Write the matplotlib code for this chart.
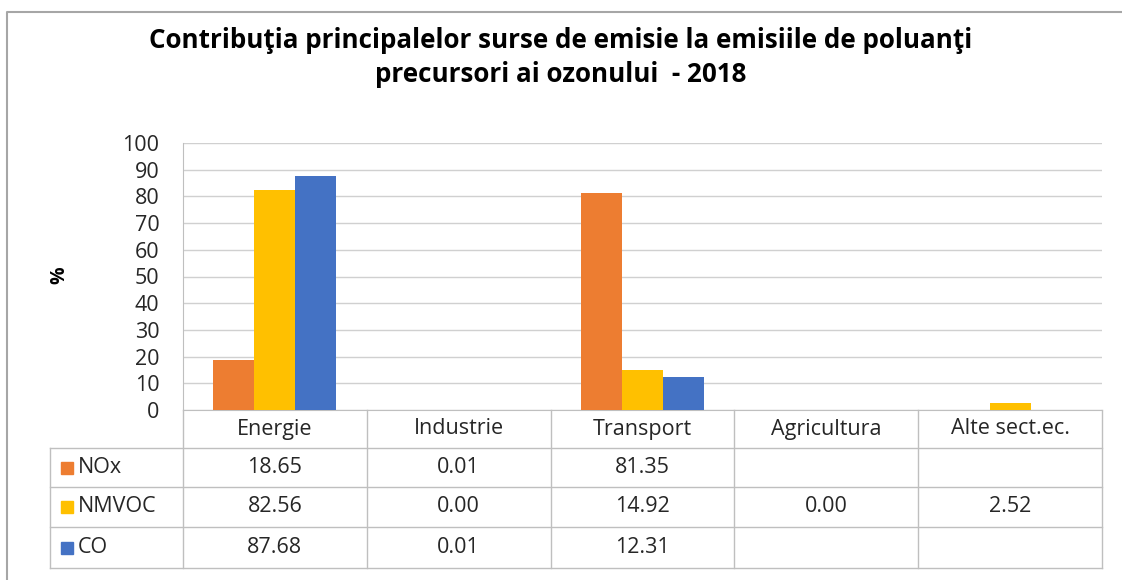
import numpy as np
import matplotlib
matplotlib.use('Agg')
import matplotlib.pyplot as plt
from matplotlib.transforms import blended_transform_factory
from matplotlib.lines import Line2D

plt.rcParams['font.family'] = ['Open Sans', 'DejaVu Sans']

categories = ['Energie', 'Industrie', 'Transport', 'Agricultura', 'Alte sect.ec.']
series_names = ['NOx', 'NMVOC', 'CO']
nox = [18.65, 0.01, 81.35, np.nan, np.nan]
nmvoc = [82.56, 0.00, 14.92, 0.00, 2.52]
co = [87.68, 0.01, 12.31, np.nan, np.nan]
colors = ['#ED7D31', '#FFC000', '#4472C4']
title_lines = ['Contribuţia principalelor surse de emisie la emisiile de poluanţi',
               'precursori ai ozonului  - 2018']

series = [nox, nmvoc, co]
grey = '#bfbfbf'
txt = '#262626'
fs = 15.5

fig = plt.figure(figsize=(11.22, 5.8), dpi=100)
ax = fig.add_axes([183/1122, 1 - 410/580, (1102 - 183)/1122, (410 - 143)/580])

x = np.arange(len(categories))
w = 0.223
for i, (vals, c) in enumerate(zip(series, colors)):
    ax.bar(x + (i - 1) * w, vals, width=w, color=c, zorder=3)

ax.set_xlim(-0.5, len(categories) - 0.5)
ax.set_ylim(0, 100)
ax.set_yticks(range(0, 101, 10))
ax.set_xticks([])
ax.tick_params(axis='y', length=0, pad=17, labelsize=fs, labelcolor=txt)
ax.grid(axis='y', color='#d0d0d0', linewidth=1, zorder=0)
for s in ['top', 'right']:
    ax.spines[s].set_visible(False)
ax.spines['left'].set_color(grey)
ax.spines['bottom'].set_color(grey)

fig.text(59/1122, 1 - 275/580, '%', rotation=90, fontsize=14, fontweight='bold',
         ha='center', va='center')

for k, line in enumerate(title_lines):
    fig.text(0.5, 1 - (40 + 35*k)/580, line, fontsize=18.7, fontweight='bold',
             ha='center', va='center')

# data table under the axis
tr = blended_transform_factory(ax.transData, ax.transAxes)
ah = 410 - 143
rows_y = [0, -(448 - 410)/ah, -(487 - 410)/ah, -(527 - 410)/ah, -(568 - 410)/ah]
x_left = -0.5 - (183 - 50) / ((1102 - 183) / 5)
x_right = len(categories) - 0.5

def hline(x0, x1, y):
    ax.add_line(Line2D([x0, x1], [y, y], transform=tr, color=grey, lw=1, clip_on=False))

def vline(xx, y0, y1):
    ax.add_line(Line2D([xx, xx], [y0, y1], transform=tr, color=grey, lw=1, clip_on=False))

for y in rows_y[1:]:
    hline(x_left, x_right, y)
for b in np.arange(len(categories) + 1) - 0.5:
    vline(b, rows_y[0], rows_y[-1])
vline(x_left, rows_y[1], rows_y[-1])

hy = (rows_y[0] + rows_y[1]) / 2
for i, cat in enumerate(categories):
    ax.text(i, hy, cat, transform=tr, ha='center', va='center', fontsize=fs, color=txt)

px = (1102 - 183) / 5
for r, (name, vals, c) in enumerate(zip(series_names, series, colors)):
    yc = (rows_y[r + 1] + rows_y[r + 2]) / 2
    ax.plot([-0.5 - (183 - 67)/px], [yc], marker='s', markersize=8, color=c,
            transform=tr, clip_on=False, linestyle='none')
    ax.text(-0.5 - (183 - 78)/px, yc, name, transform=tr, ha='left', va='center',
            fontsize=fs, color=txt)
    for i, v in enumerate(vals):
        if not np.isnan(v):
            ax.text(i, yc, f'{v:.2f}', transform=tr, ha='center', va='center',
                    fontsize=fs, color=txt)

# outer chart frame (top and left edges visible in the crop)
fig.add_artist(Line2D([7/1122, 7/1122, 1], [0, 1 - 12/580, 1 - 12/580],
                      transform=fig.transFigure, color='#a6a6a6', lw=1.5))

fig.savefig('out.png', dpi=100, facecolor='white')
